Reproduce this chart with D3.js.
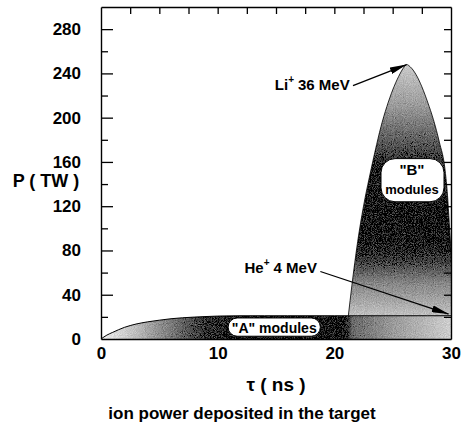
<!DOCTYPE html>
<html>
<head>
<meta charset="utf-8">
<script src="https://cdn.jsdelivr.net/npm/d3@7"></script>
<style>
  body { margin: 0; background: #fff; }
  text { font-family: "Liberation Sans", Arial, sans-serif; font-weight: bold; fill: #000; }
</style>
</head>
<body>
<script>
// "A" modules (He+ 4 MeV) power, TW
var aTime  = [0, 0.5, 1, 2, 3, 4, 5, 6, 7, 8, 9, 10, 12, 14, 16, 18, 20, 22, 24, 26, 28, 30];
var aPower = [0, 3.5, 6, 10.5, 13.5, 15.5, 17, 18.3, 19.2, 19.8, 20.3, 20.7, 21, 21, 21, 21, 21, 21, 21, 21, 21, 21];

// "B" modules (Li+ 36 MeV) power stacked on top of A, TW
var bTime  = [21.2, 21.5, 22, 22.5, 23, 23.5, 24, 24.5, 25, 25.5, 26, 26.2, 26.5, 27, 27.5, 28, 28.5, 29, 29.5, 29.7, 29.85, 30];
var bPower = [0, 27, 67, 99, 125, 149, 171, 189, 204, 216, 225, 227, 225, 218, 207, 193, 177, 157, 131, 109, 84, 59];

var yTicks = [20, 40, 60, 80, 100, 120, 140, 160, 180, 200, 220, 240, 260, 280];
var yLabels = [0, 40, 80, 120, 160, 200, 240, 280];
var xLabels = [0, 10, 20, 30];
var topTicks = [2.5, 5, 7.5, 10, 12.5, 15, 17.5, 20, 22.5, 25, 27.5];

var W = 462, H = 439;
var svg = d3.select("body").append("svg")
  .attr("width", W)
  .attr("height", H);

var x = d3.scaleLinear().domain([0, 30]).range([101, 451]);
var y = d3.scaleLinear().domain([0, 300]).range([339, 7]);

var aData = aTime.map(function(t, i) { return {t: t, p: aPower[i]}; });
var aAt = function(t) {
  var i = d3.bisector(function(d) { return d.t; }).left(aData, t);
  if (i <= 0) return aData[0].p;
  if (i >= aData.length) return aData[aData.length - 1].p;
  var a = aData[i - 1], b = aData[i];
  return a.p + (b.p - a.p) * (t - a.t) / (b.t - a.t);
};
var bData = bTime.map(function(t, i) { return {t: t, lo: aAt(t), hi: aAt(t) + bPower[i]}; });

var defs = svg.append("defs");

// grey ramps, stops in data units
var gA = defs.append("linearGradient").attr("id", "gA")
  .attr("gradientUnits", "userSpaceOnUse")
  .attr("x1", x(0)).attr("x2", x(30)).attr("y1", 0).attr("y2", 0);
[[0, "#f2f2f2"], [3, "#bdbdbd"], [6, "#7a7a7a"], [9, "#333"], [12, "#111"],
 [20.8, "#111"], [21.6, "#6a6a6a"], [25, "#9a9a9a"], [30, "#cfcfcf"]]
  .forEach(function(s) { gA.append("stop").attr("offset", s[0] / 30).attr("stop-color", s[1]); });

var gB = defs.append("linearGradient").attr("id", "gB")
  .attr("gradientUnits", "userSpaceOnUse")
  .attr("x1", 0).attr("x2", 0).attr("y1", y(250)).attr("y2", y(20));
[[250, "#cdcdcd"], [210, "#9a9a9a"], [175, "#555"], [150, "#1a1a1a"], [90, "#111"],
 [70, "#444"], [50, "#888"], [20, "#c4c4c4"]]
  .forEach(function(s) { gB.append("stop").attr("offset", (250 - s[0]) / 230).attr("stop-color", s[1]); });

// grainy look of the printed halftone
var dither = defs.append("filter").attr("id", "dither")
  .attr("x", 0).attr("y", 0).attr("width", 1).attr("height", 1);
dither.append("feTurbulence").attr("type", "fractalNoise")
  .attr("baseFrequency", 1.1).attr("numOctaves", 1).attr("seed", 3).attr("result", "n");
dither.append("feColorMatrix").attr("in", "n").attr("type", "matrix")
  .attr("values", "0.33 0.33 0.33 0 0  0.33 0.33 0.33 0 0  0.33 0.33 0.33 0 0  0 0 0 0 1")
  .attr("result", "g");
dither.append("feComposite").attr("in", "SourceGraphic").attr("in2", "g")
  .attr("operator", "arithmetic").attr("k1", 0).attr("k2", 1).attr("k3", 0.7).attr("k4", -0.35)
  .attr("result", "mix");
dither.append("feComposite").attr("in", "mix").attr("in2", "SourceGraphic").attr("operator", "in");

defs.append("marker").attr("id", "arr")
  .attr("viewBox", "0 0 17 7").attr("refX", 17).attr("refY", 3.5)
  .attr("markerWidth", 17).attr("markerHeight", 7)
  .attr("markerUnits", "userSpaceOnUse").attr("orient", "auto")
  .append("path").attr("d", "M0,0L17,3.5L0,7Z").attr("fill", "#000");

// areas
var areaA = d3.area().curve(d3.curveMonotoneX)
  .x(function(d) { return x(d.t); })
  .y0(y(0))
  .y1(function(d) { return y(d.p); });
svg.append("path").datum(aData)
  .attr("d", areaA)
  .attr("fill", "url(#gA)")
  .attr("filter", "url(#dither)");

var areaB = d3.area().curve(d3.curveMonotoneX)
  .x(function(d) { return x(d.t); })
  .y0(function(d) { return y(d.lo); })
  .y1(function(d) { return y(d.hi); });
svg.append("path").datum(bData)
  .attr("d", areaB)
  .attr("fill", "url(#gB)")
  .attr("filter", "url(#dither)");
svg.append("path").datum(bData)
  .attr("d", d3.line().curve(d3.curveMonotoneX)
    .x(function(d) { return x(d.t); })
    .y(function(d) { return y(d.hi); }))
  .attr("fill", "none").attr("stroke", "#000").attr("stroke-width", 0.8);

svg.append("path").datum(aData)
  .attr("d", d3.line().curve(d3.curveMonotoneX)
    .x(function(d) { return x(d.t); })
    .y(function(d) { return y(d.p); }))
  .attr("fill", "none").attr("stroke", "#000").attr("stroke-width", 1);

// axes
var styleAxis = function(g) {
  g.select(".domain").attr("stroke", "#000").attr("stroke-width", 1.4);
  g.selectAll(".tick line").attr("stroke", "#000").attr("stroke-width", 1.3);
  g.selectAll("text").attr("font-size", 17).attr("font-family", null);
};

svg.append("g").attr("transform", "translate(0," + y(300) + ")")
  .call(d3.axisTop(x).tickValues(topTicks).tickSize(-7).tickSizeOuter(0).tickFormat(""))
  .call(styleAxis);

svg.append("g").attr("transform", "translate(0," + y(0) + ")")
  .call(d3.axisBottom(x).tickValues(xLabels).tickSize(0).tickPadding(8).tickSizeOuter(0)
    .tickFormat(d3.format("d")))
  .call(styleAxis);

var yLeft = svg.append("g").attr("transform", "translate(" + x(0) + ",0)")
  .call(d3.axisLeft(y).tickValues([0].concat(yTicks)).tickSize(-12).tickPadding(20).tickSizeOuter(0)
    .tickFormat(function(d) { return yLabels.indexOf(d) >= 0 ? d : ""; }))
  .call(styleAxis);
yLeft.selectAll(".tick line").attr("x2", function(d) { return d === 0 ? 0 : (d % 40 === 0 ? 12 : 7); });

svg.append("g").attr("transform", "translate(" + x(30) + ",0)")
  .call(d3.axisRight(y).tickValues(yTicks).tickSize(-7).tickSizeOuter(0).tickFormat(""))
  .call(styleAxis);

// axis titles
svg.append("text").attr("x", 46).attr("y", 187).attr("text-anchor", "middle")
  .attr("font-size", 18).text("P ( TW )");
svg.append("text").attr("x", x(15.0)).attr("y", 391).attr("text-anchor", "middle")
  .attr("font-size", 19).text("\u03c4 ( ns )");
svg.append("text").attr("x", 242).attr("y", 419).attr("text-anchor", "middle")
  .attr("font-size", 17).text("ion power deposited in the target");

// annotations
var peak = bData.reduce(function(m, d) { return d.hi > m.hi ? d : m; });
var liT = svg.append("text").attr("x", x(14.9)).attr("y", y(225)).attr("font-size", 15);
liT.append("tspan").text("Li");
liT.append("tspan").attr("dy", -7).attr("font-size", 10).text("+");
liT.append("tspan").attr("dx", 4).attr("dy", 7).text("36 MeV");
svg.append("line")
  .attr("x1", x(21.6)).attr("y1", y(229))
  .attr("x2", x(peak.t)).attr("y2", y(peak.hi))
  .attr("stroke", "#000").attr("stroke-width", 1.3).attr("marker-end", "url(#arr)");

var heT = svg.append("text").attr("x", x(12.3)).attr("y", y(60)).attr("font-size", 15);
heT.append("tspan").text("He");
heT.append("tspan").attr("dy", -7).attr("font-size", 10).text("+");
heT.append("tspan").attr("dx", 4).attr("dy", 7).text("4 MeV");
svg.append("line")
  .attr("x1", x(18.8)).attr("y1", y(61))
  .attr("x2", x(29.8)).attr("y2", y(aAt(29.8) + 1.5))
  .attr("stroke", "#000").attr("stroke-width", 1.3).attr("marker-end", "url(#arr)");

// "B" modules box
svg.append("rect")
  .attr("x", x(24.0)).attr("y", y(163)).attr("width", x(29.4) - x(24.0)).attr("height", y(124) - y(163))
  .attr("rx", 14).attr("fill", "#fff").attr("stroke", "#000").attr("stroke-width", 1);
svg.append("text").attr("x", x(26.65)).attr("y", y(148)).attr("text-anchor", "middle")
  .attr("font-size", 15).text("\"B\"");
svg.append("text").attr("x", x(26.65)).attr("y", y(131)).attr("text-anchor", "middle")
  .attr("font-size", 13).text("modules");

// "A" modules pill
svg.append("rect")
  .attr("x", x(10.9)).attr("y", y(19)).attr("width", x(18.8) - x(10.9)).attr("height", y(2.5) - y(19))
  .attr("rx", 9).attr("fill", "#fff").attr("stroke", "#000").attr("stroke-width", 1);
svg.append("text").attr("x", x(14.85)).attr("y", y(5.5)).attr("text-anchor", "middle")
  .attr("font-size", 14).text("\"A\" modules");
</script>
</body>
</html>
